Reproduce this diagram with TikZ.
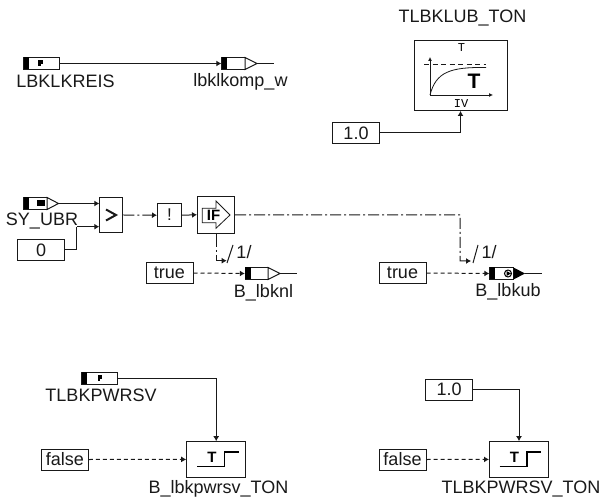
\documentclass[tikz,border=0pt]{standalone}
\usepackage{fontspec}
\setmainfont{Liberation Sans}
\newfontfamily\monof{Liberation Mono}
\usetikzlibrary{arrows.meta}
\tikzset{
 x=1pt,y=-1pt,
 wire/.style={line width=1pt,draw=black!90},
 dd/.style={wire,dash pattern=on 11pt off 3pt on 2pt off 3pt},
 dsh/.style={wire,dash pattern=on 4pt off 3pt},
 tip/.style={-{Latex[length=5pt,width=6pt]}},
 lbl/.style={inner sep=0pt,font=\fontsize{18}{18}\selectfont,text=black!90},
 blk/.style={draw=black!90,line width=1pt,fill=white},
 cbox/.style={blk,minimum width=47pt,minimum height=21pt,inner sep=0pt,font=\fontsize{18}{18}\selectfont,text=black!90},
 opbox/.style={blk,inner sep=0pt},
 pin/.style={inner sep=0pt,minimum size=0pt},
}
\newcommand{\inport}[3]{% x y width
 \draw[blk] (#1,#2-6) rectangle (#1+#3,#2+6);
 \fill[black] (#1,#2-6) rectangle (#1+5.5,#2+6);
}
\newcommand{\ptag}[2]{%
 \fill[black] (#1-2.5,#2-3) rectangle (#1+2,#2+1);
 \fill[black] (#1-2.5,#2) rectangle (#1,#2+3);
}
\begin{document}
\begin{tikzpicture}
\useasboundingbox (0,0) rectangle (602,502);
\fill[white] (0,0) rectangle (602,502);
% --- top left
\inport{23.5}{63.5}{35.5}
\ptag{40.5}{63.5}
\node[pin] (lbkin) at (59,63.5) {};
\inport{221.5}{63.5}{23.5}
\draw[blk] (245,57.5) -- (257,63.5) -- (245,69.5) -- cycle;
\node[pin] (lbkout) at (221.5,63.5) {};
\coordinate (lbkend) at (274,63.5);
\draw[wire] (257,63.5) -- (lbkend);
\draw[wire,tip] (lbkin) -- (lbkout);
\node[lbl] (n1) at (65.5,81) {LBKLKREIS};
\node[lbl] (n2) at (240.5,81.5) {lbklkomp\_w};
% --- top right
\node[lbl] (n3) at (462.5,18) {TLBKLUB\_TON};
\node[opbox,minimum width=93pt,minimum height=70pt] (tbox) at (460.5,75.5) {};
\node[inner sep=0pt,font=\monof\fontsize{12}{12}\selectfont] (tt) at (461.5,48) {T};
\node[inner sep=0pt,font=\monof\fontsize{12}{12}\selectfont] (iv) at (461,103.5) {IV};
\draw[wire,line width=0.8pt,dash pattern=on 5pt off 3.5pt] (424,64) -- (486,64);
\draw[wire,line width=0.8pt,-{Latex[length=4pt,width=4pt]}] (430,95) -- (430,57);
\draw[wire,line width=0.8pt,-{Latex[length=4pt,width=4pt]}] (430,95) -- (493,95);
\draw[wire,line width=0.8pt] (430,95) .. controls (436,72) and (450,67) .. (486,67.5);
\node[inner sep=0pt,font=\bfseries\fontsize{21}{21}\selectfont] (bigT) at (474,81.5) {T};
\node[cbox] (c1) at (356,133) {1.0};
\draw[wire,tip] (c1.east) -| (tbox.south);
% --- middle
\inport{23.5}{203.5}{23.5}
\fill[black] (37,200) rectangle (45,206.5);
\draw[blk] (47,197.5) -- (58.5,203.5) -- (47,209.5) -- cycle;
\node[pin] (syout) at (58.5,203.5) {};
\node[lbl] (n4) at (42,221) {SY\_UBR};
\node[opbox,minimum width=23.5pt,minimum height=35pt] (gt) at (111.2,215) {};
\draw[line width=2pt,draw=black!90] (106,209.5) -- (116,215) -- (106,220.5);
\node[opbox,minimum width=24pt,minimum height=23.5pt] (nt) at (169.5,215.2) {};
\node[inner sep=0pt,font=\fontsize{17}{17}\selectfont,text=black!90] (nts) at (169.5,215) {!};
\node[cbox] (c0) at (41.2,250) {0};
\coordinate (j0) at (76.5,226.7);
\node[pin] (gt1) at (99.5,203.5) {};
\node[pin] (gt2) at (99.5,226.7) {};
\draw[wire,tip] (syout) -- (gt1);
\draw[wire] (c0.east) -| (j0);
\draw[wire,tip] (j0) -- (gt2);
\draw[dd,tip] (gt.east) -- (nt.west);
\node[opbox,minimum width=37pt,minimum height=36.5pt] (ifb) at (216,214.8) {};
\draw[wire,tip] (nt.east) -- (ifb.west);
\draw[wire,line width=0.8pt,fill=white] (202.3,208.3) -- (216,208.3) -- (216,201) -- (230,215) -- (216,228.3) -- (216,222.7) -- (202.3,222.7) -- cycle;
\node[inner sep=0pt,font=\bfseries\fontsize{15}{15}\selectfont] (ifs) at (213.5,215.5) {IF};
% left branch
\coordinate (ifl) at (226.7,260.7);
\draw[wire,dash pattern=on 14pt off 3pt on 2pt off 3pt,tip] (216,233) -- (216,260.7) -- (ifl);
\draw[wire] (227,263) -- (233,245);
\node[lbl] (sl1) at (244,252.5) {1/};
\node[cbox] (t1) at (169.5,273) {true};
\inport{245}{273.5}{23}
\draw[blk] (268,267.5) -- (280,273.5) -- (268,279.5) -- cycle;
\node[pin] (b1in) at (245,273.5) {};
\coordinate (b1end) at (297,273.5);
\draw[wire] (280,273.5) -- (b1end);
\draw[dsh,tip] (t1.east) -- (b1in);
\node[lbl] (n5) at (263.5,292.5) {B\_lbknl};
% right branch
\coordinate (ifr) at (471,261);
\draw[dd,tip] (ifb.east) -- (460,215) -- (460,261) -- (ifr);
\draw[wire] (473,263) -- (478,245);
\node[lbl] (sl2) at (489,252.5) {1/};
\node[cbox] (t2) at (402.5,273) {true};
\inport{489.5}{273.5}{24}
\fill[black] (513.5,267.5) -- (525,273.5) -- (513.5,279.5) -- cycle;
\draw[line width=1pt,fill=white] (508,273.5) circle (3.5pt);
\fill[black] (506.5,271) -- (511,273.5) -- (506.5,276) -- cycle;
\node[pin] (b2in) at (489.5,273.5) {};
\coordinate (b2end) at (542,273.5);
\draw[wire] (525,273.5) -- (b2end);
\draw[dsh,tip] (t2.east) -- (b2in);
\node[lbl] (n6) at (508,292) {B\_lbkub};
% --- bottom left
\inport{81.7}{378.2}{35.6}
\ptag{100}{378.2}
\node[pin] (tin) at (117.3,378.2) {};
\node[lbl] (n7) at (101,395) {TLBKPWRSV};
\node[opbox,minimum width=59pt,minimum height=35.5pt] (tn1) at (216.2,459.4) {};
\draw[wire,tip] (tin) -| (tn1.north);
\node[cbox] (f1) at (64.8,459.5) {false};
\draw[dsh,tip] (f1.east) -- (tn1.west);
\draw[line width=1.3pt] (197,466.7) -- (224.5,466.7) -- (224.5,452) -- (238.5,452);
\node[inner sep=0pt,font=\bfseries\fontsize{15}{15}\selectfont] (ts1) at (212,457) {T};
\node[lbl] (n8) at (218.5,489) {B\_lbkpwrsv\_TON};
% --- bottom right
\node[cbox] (c2) at (449.2,389.7) {1.0};
\node[opbox,minimum width=59pt,minimum height=35.5pt] (tn2) at (519,459.4) {};
\draw[wire,tip] (c2.east) -| (tn2.north);
\node[cbox] (f2) at (402.5,459.5) {false};
\draw[dsh,tip] (f2.east) -- (tn2.west);
\draw[line width=1.3pt] (499.5,466.7) -- (527,466.7) -- (527,452) -- (541,452);
\node[inner sep=0pt,font=\bfseries\fontsize{15}{15}\selectfont] (ts2) at (514.5,457) {T};
\node[lbl] (n9) at (521,489) {TLBKPWRSV\_TON};
\end{tikzpicture}
\end{document}
